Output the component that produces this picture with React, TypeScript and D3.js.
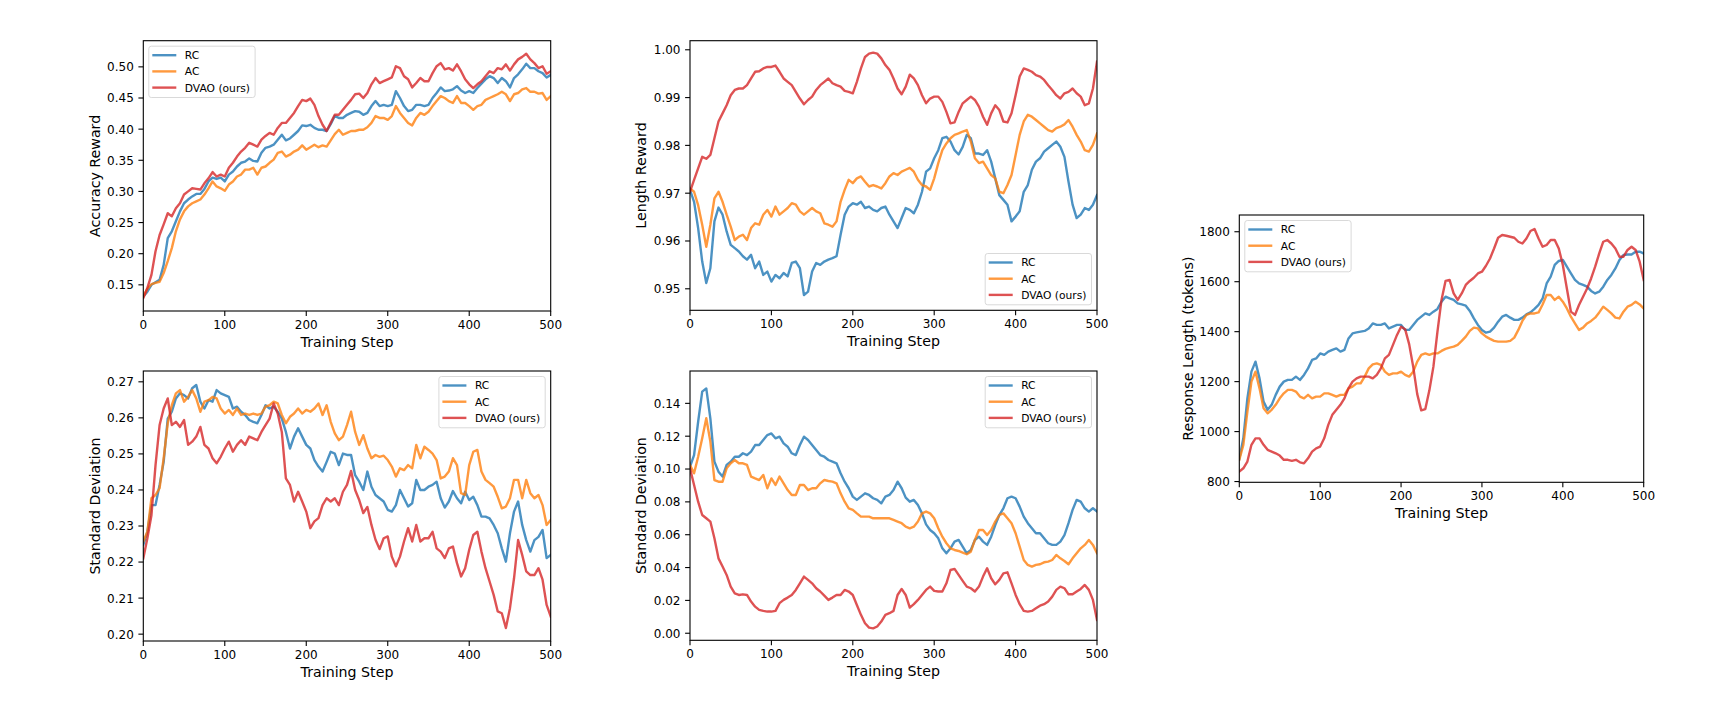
import * as d3 from 'd3';

// training steps, sampled every 5
const steps = d3.range(0, 501, 5);

const seriesNames = ['RC', 'AC', 'DVAO (ours)'];
const seriesColors = ['#1f77b4', '#ff7f0e', '#d62728'];

const xTicks = [0, 100, 200, 300, 400, 500];
const accTicks = [0.15, 0.2, 0.25, 0.3, 0.35, 0.4, 0.45, 0.5];
const lenTicks = [0.95, 0.96, 0.97, 0.98, 0.99, 1.0];
const stdTicks = [0.2, 0.21, 0.22, 0.23, 0.24, 0.25, 0.26, 0.27];
const stdLenTicks = [0.0, 0.02, 0.04, 0.06, 0.08, 0.1, 0.12, 0.14];
const respTicks = [800, 1000, 1200, 1400, 1600, 1800];

// Accuracy reward
const accRC = [
  0.131, 0.139, 0.150, 0.154, 0.158, 0.182, 0.225, 0.236, 0.252, 0.268, 0.281, 0.287, 0.292, 0.296, 0.296, 0.304, 0.316, 0.322, 0.320, 0.322,
  0.316, 0.327, 0.332, 0.340, 0.346, 0.348, 0.353, 0.349, 0.348, 0.362, 0.370, 0.372, 0.375, 0.383, 0.391, 0.382, 0.385, 0.391, 0.397, 0.406,
  0.405, 0.407, 0.402, 0.399, 0.399, 0.397, 0.408, 0.421, 0.418, 0.418, 0.423, 0.426, 0.429, 0.428, 0.423, 0.426, 0.437, 0.445, 0.437, 0.439,
  0.437, 0.439, 0.461, 0.450, 0.437, 0.429, 0.431, 0.439, 0.439, 0.437, 0.439, 0.450, 0.458, 0.467, 0.461, 0.462, 0.464, 0.469, 0.462, 0.458,
  0.461, 0.458, 0.466, 0.473, 0.480, 0.485, 0.482, 0.474, 0.482, 0.477, 0.467, 0.482, 0.488, 0.496, 0.505, 0.498, 0.498, 0.493, 0.490, 0.483, 0.487,
];
const accAC = [
  0.131, 0.144, 0.151, 0.153, 0.155, 0.169, 0.188, 0.209, 0.236, 0.255, 0.268, 0.276, 0.281, 0.284, 0.287, 0.295, 0.305, 0.316, 0.308, 0.305,
  0.301, 0.311, 0.316, 0.324, 0.327, 0.335, 0.335, 0.338, 0.327, 0.338, 0.340, 0.346, 0.351, 0.362, 0.364, 0.356, 0.359, 0.364, 0.367, 0.374,
  0.367, 0.371, 0.375, 0.371, 0.374, 0.372, 0.382, 0.392, 0.399, 0.391, 0.394, 0.397, 0.397, 0.399, 0.399, 0.403, 0.410, 0.421, 0.418, 0.418,
  0.415, 0.421, 0.437, 0.426, 0.418, 0.410, 0.406, 0.418, 0.426, 0.423, 0.428, 0.437, 0.445, 0.453, 0.450, 0.445, 0.442, 0.453, 0.442, 0.442,
  0.437, 0.431, 0.437, 0.439, 0.447, 0.450, 0.453, 0.456, 0.460, 0.456, 0.445, 0.456, 0.458, 0.464, 0.466, 0.460, 0.460, 0.457, 0.458, 0.447, 0.453,
];
const accDVAO = [
  0.129, 0.145, 0.166, 0.204, 0.230, 0.247, 0.265, 0.260, 0.273, 0.281, 0.295, 0.300, 0.305, 0.304, 0.303, 0.313, 0.321, 0.331, 0.324, 0.327,
  0.324, 0.338, 0.346, 0.356, 0.364, 0.370, 0.378, 0.375, 0.372, 0.383, 0.389, 0.394, 0.391, 0.402, 0.410, 0.410, 0.418, 0.426, 0.437, 0.447,
  0.445, 0.449, 0.439, 0.421, 0.407, 0.397, 0.410, 0.423, 0.423, 0.431, 0.439, 0.447, 0.456, 0.457, 0.450, 0.458, 0.472, 0.482, 0.474, 0.477,
  0.480, 0.483, 0.501, 0.498, 0.485, 0.480, 0.467, 0.474, 0.482, 0.477, 0.477, 0.490, 0.501, 0.506, 0.496, 0.498, 0.494, 0.504, 0.493, 0.480,
  0.472, 0.466, 0.472, 0.477, 0.485, 0.493, 0.490, 0.498, 0.496, 0.504, 0.494, 0.504, 0.512, 0.516, 0.521, 0.512, 0.506, 0.498, 0.501, 0.489, 0.493,
];

// Length reward
const lenRC = [
  0.9707, 0.9682, 0.9627, 0.9557, 0.9512, 0.9543, 0.9641, 0.9670, 0.9655, 0.9620, 0.9592, 0.9585, 0.9578, 0.9568, 0.9561, 0.9571, 0.9543, 0.9557, 0.9529, 0.9536,
  0.9515, 0.9529, 0.9522, 0.9533, 0.9526, 0.9554, 0.9557, 0.9543, 0.9487, 0.9494, 0.9536, 0.9554, 0.9550, 0.9557, 0.9561, 0.9564, 0.9568, 0.9613, 0.9655, 0.9672,
  0.9679, 0.9676, 0.9682, 0.9669, 0.9672, 0.9665, 0.9662, 0.9669, 0.9672, 0.9655, 0.9641, 0.9627, 0.9648, 0.9669, 0.9665, 0.9658, 0.9676, 0.9703, 0.9745, 0.9752,
  0.9773, 0.9790, 0.9815, 0.9818, 0.9808, 0.9790, 0.9781, 0.9797, 0.9822, 0.9815, 0.9783, 0.9783, 0.9780, 0.9790, 0.9766, 0.9731, 0.9696, 0.9686, 0.9676, 0.9641,
  0.9651, 0.9662, 0.9703, 0.9717, 0.9749, 0.9766, 0.9773, 0.9787, 0.9794, 0.9801, 0.9808, 0.9797, 0.9776, 0.9724, 0.9676, 0.9648, 0.9655, 0.9669, 0.9665, 0.9676, 0.9696,
];
const lenAC = [
  0.9710, 0.9703, 0.9675, 0.9634, 0.9588, 0.9634, 0.9689, 0.9703, 0.9682, 0.9655, 0.9630, 0.9602, 0.9609, 0.9613, 0.9602, 0.9627, 0.9637, 0.9634, 0.9655, 0.9665,
  0.9651, 0.9672, 0.9655, 0.9662, 0.9669, 0.9679, 0.9676, 0.9662, 0.9655, 0.9662, 0.9669, 0.9662, 0.9658, 0.9637, 0.9634, 0.9630, 0.9641, 0.9682, 0.9707, 0.9728,
  0.9721, 0.9731, 0.9735, 0.9724, 0.9714, 0.9717, 0.9714, 0.9710, 0.9721, 0.9735, 0.9742, 0.9738, 0.9745, 0.9749, 0.9753, 0.9745, 0.9728, 0.9717, 0.9714, 0.9707,
  0.9731, 0.9763, 0.9790, 0.9804, 0.9815, 0.9822, 0.9825, 0.9829, 0.9832, 0.9808, 0.9773, 0.9763, 0.9766, 0.9752, 0.9738, 0.9731, 0.9703, 0.9700, 0.9717, 0.9738,
  0.9780, 0.9822, 0.9850, 0.9864, 0.9860, 0.9853, 0.9846, 0.9839, 0.9832, 0.9829, 0.9836, 0.9839, 0.9844, 0.9853, 0.9839, 0.9822, 0.9808, 0.9790, 0.9787, 0.9801, 0.9825,
];
const lenDVAO = [
  0.9703, 0.9728, 0.9752, 0.9776, 0.9772, 0.9780, 0.9815, 0.9850, 0.9867, 0.9884, 0.9905, 0.9916, 0.9919, 0.9919, 0.9926, 0.9940, 0.9954, 0.9955, 0.9961, 0.9964,
  0.9964, 0.9967, 0.9954, 0.9940, 0.9933, 0.9926, 0.9912, 0.9898, 0.9886, 0.9895, 0.9902, 0.9916, 0.9926, 0.9933, 0.9940, 0.9930, 0.9926, 0.9923, 0.9914, 0.9912,
  0.9909, 0.9933, 0.9961, 0.9985, 0.9992, 0.9994, 0.9992, 0.9982, 0.9968, 0.9958, 0.9940, 0.9919, 0.9907, 0.9923, 0.9948, 0.9940, 0.9926, 0.9905, 0.9888, 0.9898,
  0.9902, 0.9902, 0.9891, 0.9870, 0.9846, 0.9848, 0.9870, 0.9888, 0.9895, 0.9902, 0.9895, 0.9881, 0.9860, 0.9843, 0.9867, 0.9884, 0.9874, 0.9850, 0.9848, 0.9867,
  0.9905, 0.9944, 0.9961, 0.9958, 0.9954, 0.9947, 0.9944, 0.9937, 0.9926, 0.9916, 0.9905, 0.9898, 0.9909, 0.9912, 0.9919, 0.9909, 0.9902, 0.9884, 0.9888, 0.9919, 0.9975,
];

// Standard deviation of accuracy reward
const stdRC = [
  0.2248, 0.2284, 0.2358, 0.2358, 0.2414, 0.2478, 0.2598, 0.2617, 0.2654, 0.2668, 0.2663, 0.2654, 0.2682, 0.2691, 0.2645, 0.2626, 0.2649, 0.2645, 0.2677, 0.2668,
  0.2663, 0.2658, 0.2626, 0.2631, 0.2617, 0.2608, 0.2594, 0.2589, 0.2585, 0.2608, 0.2635, 0.2626, 0.2631, 0.2617, 0.2598, 0.2561, 0.2515, 0.2548, 0.2571, 0.2548,
  0.2525, 0.2515, 0.2483, 0.2465, 0.2451, 0.2478, 0.2506, 0.2501, 0.2469, 0.2501, 0.2497, 0.2497, 0.2441, 0.2423, 0.2400, 0.2451, 0.2409, 0.2386, 0.2377, 0.2368,
  0.2345, 0.2340, 0.2358, 0.2400, 0.2377, 0.2354, 0.2363, 0.2428, 0.2400, 0.2400, 0.2409, 0.2414, 0.2423, 0.2377, 0.2351, 0.2368, 0.2397, 0.2377, 0.2363, 0.2395,
  0.2372, 0.2381, 0.2358, 0.2326, 0.2326, 0.2321, 0.2303, 0.2280, 0.2238, 0.2201, 0.2280, 0.2340, 0.2368, 0.2303, 0.2261, 0.2229, 0.2261, 0.2270, 0.2289, 0.2211, 0.2220,
];
const stdAC = [
  0.2257, 0.2284, 0.2377, 0.2386, 0.2405, 0.2488, 0.2585, 0.2635, 0.2668, 0.2677, 0.2645, 0.2658, 0.2677, 0.2654, 0.2617, 0.2645, 0.2649, 0.2658, 0.2654, 0.2626,
  0.2612, 0.2622, 0.2608, 0.2626, 0.2608, 0.2612, 0.2608, 0.2612, 0.2608, 0.2612, 0.2631, 0.2635, 0.2645, 0.2640, 0.2608, 0.2585, 0.2603, 0.2612, 0.2626, 0.2612,
  0.2622, 0.2617, 0.2626, 0.2640, 0.2608, 0.2635, 0.2589, 0.2557, 0.2538, 0.2548, 0.2580, 0.2617, 0.2561, 0.2525, 0.2552, 0.2515, 0.2488, 0.2497, 0.2492, 0.2495,
  0.2483, 0.2465, 0.2437, 0.2460, 0.2455, 0.2469, 0.2460, 0.2525, 0.2488, 0.2520, 0.2511, 0.2501, 0.2483, 0.2432, 0.2437, 0.2451, 0.2488, 0.2469, 0.2391, 0.2386,
  0.2469, 0.2506, 0.2511, 0.2451, 0.2428, 0.2419, 0.2409, 0.2381, 0.2349, 0.2354, 0.2377, 0.2428, 0.2428, 0.2377, 0.2428, 0.2391, 0.2377, 0.2386, 0.2358, 0.2303, 0.2317,
];
const stdDVAO = [
  0.2210, 0.2266, 0.2330, 0.2469, 0.2580, 0.2626, 0.2654, 0.2580, 0.2589, 0.2575, 0.2594, 0.2525, 0.2534, 0.2548, 0.2575, 0.2525, 0.2515, 0.2488, 0.2474, 0.2492,
  0.2515, 0.2534, 0.2506, 0.2525, 0.2538, 0.2525, 0.2548, 0.2543, 0.2538, 0.2561, 0.2580, 0.2598, 0.2640, 0.2612, 0.2561, 0.2432, 0.2414, 0.2368, 0.2395, 0.2368,
  0.2340, 0.2294, 0.2313, 0.2322, 0.2358, 0.2377, 0.2368, 0.2377, 0.2358, 0.2395, 0.2414, 0.2453, 0.2400, 0.2372, 0.2336, 0.2353, 0.2303, 0.2262, 0.2236, 0.2266,
  0.2271, 0.2215, 0.2188, 0.2215, 0.2257, 0.2294, 0.2257, 0.2303, 0.2257, 0.2266, 0.2266, 0.2284, 0.2238, 0.2229, 0.2211, 0.2238, 0.2243, 0.2197, 0.2160, 0.2183,
  0.2234, 0.2275, 0.2284, 0.2229, 0.2183, 0.2146, 0.2109, 0.2063, 0.2058, 0.2017, 0.2072, 0.2155, 0.2261, 0.2220, 0.2174, 0.2164, 0.2164, 0.2183, 0.2151, 0.2081, 0.2049,
];

// Standard deviation of length reward
const stdLenRC = [
  0.1014, 0.1085, 0.1288, 0.1471, 0.1491, 0.1309, 0.1045, 0.0984, 0.0954, 0.1025, 0.1045, 0.1075, 0.1075, 0.1096, 0.1085, 0.1106, 0.1146, 0.1146, 0.1177, 0.1207,
  0.1217, 0.1187, 0.1197, 0.1156, 0.1136, 0.1096, 0.1085, 0.1146, 0.1197, 0.1177, 0.1146, 0.1116, 0.1085, 0.1075, 0.1055, 0.1045, 0.1035, 0.0974, 0.0923, 0.0883,
  0.0832, 0.0812, 0.0832, 0.0852, 0.0842, 0.0822, 0.0812, 0.0791, 0.0832, 0.0842, 0.0872, 0.0923, 0.0883, 0.0826, 0.0801, 0.0812, 0.0781, 0.0730, 0.0663, 0.0629,
  0.0609, 0.0578, 0.0517, 0.0487, 0.0517, 0.0558, 0.0568, 0.0527, 0.0487, 0.0507, 0.0568, 0.0588, 0.0558, 0.0538, 0.0588, 0.0659, 0.0720, 0.0761, 0.0822, 0.0832,
  0.0822, 0.0771, 0.0710, 0.0670, 0.0639, 0.0609, 0.0609, 0.0578, 0.0548, 0.0538, 0.0538, 0.0558, 0.0598, 0.0670, 0.0751, 0.0812, 0.0801, 0.0761, 0.0741, 0.0761, 0.0741,
];
const stdLenAC = [
  0.1025, 0.0974, 0.1075, 0.1187, 0.1309, 0.1167, 0.0933, 0.0923, 0.0923, 0.1004, 0.1035, 0.1055, 0.1035, 0.1035, 0.1025, 0.0954, 0.0943, 0.0933, 0.0964, 0.0883,
  0.0943, 0.0903, 0.0954, 0.0913, 0.0872, 0.0842, 0.0842, 0.0903, 0.0903, 0.0872, 0.0883, 0.0883, 0.0913, 0.0933, 0.0927, 0.0923, 0.0913, 0.0852, 0.0801, 0.0761,
  0.0751, 0.0730, 0.0710, 0.0710, 0.0710, 0.0700, 0.0700, 0.0700, 0.0700, 0.0700, 0.0690, 0.0680, 0.0670, 0.0649, 0.0639, 0.0649, 0.0680, 0.0730, 0.0741, 0.0730,
  0.0700, 0.0639, 0.0588, 0.0548, 0.0517, 0.0507, 0.0501, 0.0491, 0.0481, 0.0497, 0.0568, 0.0629, 0.0629, 0.0598, 0.0629, 0.0680, 0.0720, 0.0730, 0.0700, 0.0670,
  0.0609, 0.0527, 0.0446, 0.0416, 0.0406, 0.0416, 0.0420, 0.0432, 0.0436, 0.0446, 0.0477, 0.0456, 0.0440, 0.0420, 0.0456, 0.0487, 0.0517, 0.0538, 0.0568, 0.0538, 0.0487,
];
const stdLenDVAO = [
  0.1004, 0.0903, 0.0801, 0.0720, 0.0700, 0.0680, 0.0578, 0.0456, 0.0406, 0.0355, 0.0284, 0.0243, 0.0233, 0.0237, 0.0233, 0.0193, 0.0162, 0.0142, 0.0136, 0.0132,
  0.0132, 0.0136, 0.0183, 0.0203, 0.0217, 0.0233, 0.0264, 0.0304, 0.0345, 0.0325, 0.0304, 0.0274, 0.0254, 0.0229, 0.0203, 0.0217, 0.0233, 0.0233, 0.0264, 0.0254,
  0.0233, 0.0172, 0.0112, 0.0061, 0.0034, 0.0030, 0.0041, 0.0071, 0.0112, 0.0122, 0.0136, 0.0233, 0.0270, 0.0233, 0.0156, 0.0177, 0.0203, 0.0233, 0.0264, 0.0284,
  0.0258, 0.0254, 0.0254, 0.0304, 0.0385, 0.0392, 0.0355, 0.0319, 0.0284, 0.0274, 0.0254, 0.0284, 0.0345, 0.0396, 0.0335, 0.0298, 0.0325, 0.0365, 0.0371, 0.0304,
  0.0233, 0.0177, 0.0136, 0.0132, 0.0136, 0.0152, 0.0168, 0.0177, 0.0193, 0.0223, 0.0264, 0.0284, 0.0274, 0.0237, 0.0237, 0.0254, 0.0270, 0.0294, 0.0264, 0.0203, 0.0081,
];

// Response length (tokens)
const respRC = [
  890, 973, 1133, 1240, 1280, 1213, 1120, 1087, 1107, 1147, 1180, 1200, 1207, 1207, 1220, 1207, 1227, 1253, 1287, 1293,
  1313, 1307, 1320, 1327, 1333, 1320, 1327, 1373, 1393, 1397, 1400, 1403, 1413, 1433, 1427, 1427, 1433, 1413, 1420, 1427,
  1427, 1407, 1407, 1427, 1447, 1460, 1473, 1467, 1480, 1491, 1520, 1540, 1533, 1527, 1513, 1509, 1504, 1483, 1453, 1427,
  1407, 1396, 1400, 1416, 1440, 1460, 1467, 1456, 1447, 1447, 1456, 1469, 1477, 1491, 1507, 1533, 1593, 1620, 1667, 1683,
  1687, 1660, 1633, 1607, 1593, 1587, 1580, 1563, 1553, 1560, 1580, 1607, 1627, 1653, 1687, 1707, 1709, 1709, 1720, 1720, 1713,
];
const respAC = [
  887, 947, 1080, 1200, 1240, 1173, 1093, 1073, 1087, 1107, 1133, 1153, 1167, 1167, 1160, 1140, 1133, 1147, 1133, 1140,
  1140, 1153, 1153, 1147, 1140, 1147, 1147, 1173, 1180, 1193, 1193, 1220, 1253, 1269, 1273, 1267, 1240, 1227, 1233, 1233,
  1240, 1227, 1220, 1240, 1280, 1307, 1313, 1307, 1313, 1313, 1323, 1331, 1336, 1340, 1347, 1363, 1380, 1403, 1416, 1413,
  1393, 1380, 1371, 1363, 1360, 1360, 1360, 1363, 1376, 1407, 1443, 1467, 1473, 1473, 1477, 1509, 1547, 1547, 1527, 1540,
  1520, 1493, 1460, 1433, 1407, 1416, 1433, 1443, 1456, 1477, 1500, 1487, 1473, 1456, 1453, 1480, 1500, 1507, 1520, 1509, 1493,
];
const respDVAO = [
  840, 853, 880, 947, 973, 973, 947, 927, 920, 913, 904, 887, 887, 883, 887, 877, 873, 893, 920, 933,
  940, 973, 1027, 1067, 1087, 1107, 1133, 1173, 1200, 1213, 1220, 1220, 1220, 1213, 1227, 1253, 1293, 1307, 1347, 1387,
  1420, 1410, 1350, 1260, 1150, 1085, 1090, 1165, 1260, 1400, 1527, 1603, 1607, 1553, 1527, 1553, 1587, 1603, 1616, 1633,
  1640, 1664, 1693, 1733, 1776, 1787, 1784, 1780, 1776, 1760, 1753, 1773, 1803, 1811, 1773, 1740, 1747, 1767, 1767, 1733,
  1667, 1573, 1480, 1467, 1507, 1540, 1573, 1613, 1660, 1713, 1760, 1767, 1753, 1733, 1700, 1700, 1727, 1740, 1727, 1680, 1607,
];

const FONT = 'DejaVu Sans, Verdana, sans-serif';

const panels = [
  {
    id: 'acc', left: 143.3, top: 40.7, width: 407.4, height: 270.3,
    domain: [0.108, 0.542], ticks: accTicks, fmt: d3.format('.2f'),
    ylabel: 'Accuracy Reward', labelOff: 43, legend: 'ul',
    series: [accRC, accAC, accDVAO],
  },
  {
    id: 'len', left: 690, top: 40.7, width: 407, height: 269.6,
    domain: [0.9455, 1.0019], ticks: lenTicks, fmt: d3.format('.2f'),
    ylabel: 'Length Reward', labelOff: 44, legend: 'lr',
    series: [lenRC, lenAC, lenDVAO],
  },
  {
    id: 'std', left: 143.3, top: 371, width: 407.4, height: 270,
    domain: [0.1981, 0.273], ticks: stdTicks, fmt: d3.format('.2f'),
    ylabel: 'Standard Deviation', labelOff: 43, legend: 'ur',
    series: [stdRC, stdAC, stdDVAO],
  },
  {
    id: 'stdlen', left: 690, top: 371, width: 407, height: 269.3,
    domain: [-0.0043, 0.1597], ticks: stdLenTicks, fmt: d3.format('.2f'),
    ylabel: 'Standard Deviation', labelOff: 44, legend: 'ur',
    series: [stdLenRC, stdLenAC, stdLenDVAO],
  },
  {
    id: 'resp', left: 1239.3, top: 215, width: 404.4, height: 267.3,
    domain: [797, 1867], ticks: respTicks, fmt: d3.format('d'),
    ylabel: 'Response Length (tokens)', labelOff: 46.5, legend: 'ul',
    series: [respRC, respAC, respDVAO],
  },
];

const LEG_W = 106.3;
const LEG_H = 51.3;
const LW = 2.4;

function Panel({ p }: { p: any }) {
  const x = d3.scaleLinear().domain([0, 500]).range([p.left, p.left + p.width]);
  const y = d3.scaleLinear().domain(p.domain).range([p.top + p.height, p.top]);
  const bottom = p.top + p.height;
  const right = p.left + p.width;

  const line = d3.line<number>()
    .x((d, i) => x(steps[i]))
    .y(d => y(d));

  // legend box placement
  const inset = 5.5;
  const lx = p.legend === 'ul' ? p.left + inset : right - inset - LEG_W;
  const ly = p.legend === 'lr' ? bottom - inset - LEG_H : p.top + inset;

  return (
    <g>
      <defs>
        <clipPath id={`clip-${p.id}`}>
          <rect x={p.left} y={p.top} width={p.width} height={p.height} />
        </clipPath>
      </defs>

      <g clipPath={`url(#clip-${p.id})`}>
        {p.series.map((s: number[], k: number) => (
          <path key={k} d={line(s) || ''} fill="none" stroke={seriesColors[k]}
            strokeOpacity={0.8} strokeWidth={LW} strokeLinejoin="round" strokeLinecap="square" />
        ))}
      </g>

      {/* spines */}
      <rect x={p.left} y={p.top} width={p.width} height={p.height} fill="none" stroke="#000" strokeWidth={1.1} />

      {/* x axis */}
      {xTicks.map(t => (
        <g key={t}>
          <line x1={x(t)} x2={x(t)} y1={bottom} y2={bottom + 4.9} stroke="#000" strokeWidth={1.1} />
          <text x={x(t)} y={bottom + 17.6} textAnchor="middle" fontSize={12} fontFamily={FONT} fill="#000">{t}</text>
        </g>
      ))}
      <text x={p.left + p.width / 2} y={bottom + 36} textAnchor="middle" fontSize={14.2} fontFamily={FONT} fill="#000">Training Step</text>

      {/* y axis */}
      {p.ticks.map((t: number) => (
        <g key={t}>
          <line x1={p.left - 4.9} x2={p.left} y1={y(t)} y2={y(t)} stroke="#000" strokeWidth={1.1} />
          <text x={p.left - 9.5} y={y(t) + 4.4} textAnchor="end" fontSize={12} fontFamily={FONT} fill="#000">{p.fmt(t)}</text>
        </g>
      ))}
      <text transform={`translate(${p.left - p.labelOff},${p.top + p.height / 2}) rotate(-90)`}
        textAnchor="middle" fontSize={14.2} fontFamily={FONT} fill="#000">{p.ylabel}</text>

      {/* legend */}
      <rect x={lx} y={ly} width={LEG_W} height={LEG_H} rx={2.5} fill="#fff" fillOpacity={0.8}
        stroke="#d9d9d9" strokeWidth={1} />
      {seriesNames.map((name, k) => {
        const ry = ly + 9 + k * 16.2;
        return (
          <g key={name}>
            <line x1={lx + 3.5} x2={lx + 27.5} y1={ry} y2={ry} stroke={seriesColors[k]} strokeOpacity={0.8} strokeWidth={LW} />
            <text x={lx + 36} y={ry + 3.9} fontSize={10.7} fontFamily={FONT} fill="#000">{name}</text>
          </g>
        );
      })}
    </g>
  );
}

export default function App() {
  return (
    <svg width={1736} height={720} style={{ position: 'absolute', left: 0, top: 0, background: '#fff' }}>
      {panels.map(p => <Panel key={p.id} p={p} />)}
    </svg>
  );
}
